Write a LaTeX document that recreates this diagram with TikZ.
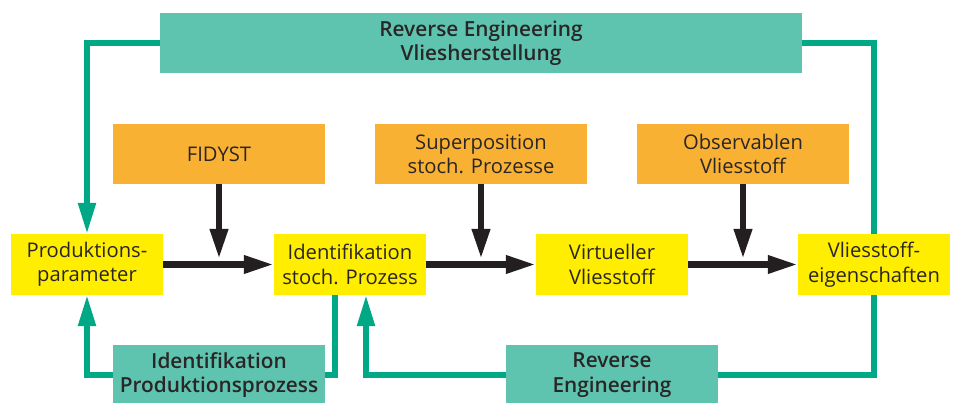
\documentclass[tikz,border=0pt]{standalone}
\usepackage{fontspec}
\setmainfont{Open Sans}
\newfontfamily\semib{Open Sans Semibold}
\usetikzlibrary{arrows.meta}
\definecolor{tealfill}{HTML}{5EC4AF}
\definecolor{tealline}{HTML}{00A886}
\definecolor{orangefill}{HTML}{F9B134}
\definecolor{yellowfill}{HTML}{FFEE00}
\definecolor{darktxt}{HTML}{2A2627}
\definecolor{blackline}{HTML}{231F20}
\begin{document}
\begin{tikzpicture}[x=1pt,y=-1pt,
  box/.style={inner sep=0pt,align=center,text=darktxt,font=\fontsize{20.2}{24.5}\selectfont},
  tealbox/.style={box,fill=tealfill,font=\fontsize{20.8}{24.5}\selectfont\semib},
  orangebox/.style={box,fill=orangefill,minimum width=212pt,minimum height=60pt},
  yellowbox/.style={box,fill=yellowfill,minimum width=152pt,minimum height=61pt},
  tealconn/.style={draw=tealline,line width=5.5pt,line join=miter},
  tealarrow/.style={tealconn,-{Triangle[length=31pt,width=17pt]}},
  blackarrow/.style={draw=blackline,line width=6.5pt,-{Triangle[length=30pt,width=17pt]}}
]
\useasboundingbox (0,0) rectangle (955,403);
\clip (0,0) rectangle (955,403);
\fill[white] (0,0) rectangle (955,403);

% top and bottom teal boxes
\node[tealbox,minimum width=642pt,minimum height=60pt] (rev) at (481,43) {Reverse Engineering\\Vliesherstellung};
\node[tealbox,minimum width=212pt,minimum height=60pt] (ipp) at (219,375) {Identifikation\\Produktionsprozess};
\node[tealbox,minimum width=212pt,minimum height=60pt] (re) at (612,375) {Reverse\\Engineering};

% orange boxes
\node[orangebox] (fid) at (219,154) {FIDYST};
\node[orangebox] (sup) at (481,154) {Superposition\\stoch. Prozesse};
\node[orangebox] (obs) at (743,154) {Observablen\\Vliesstoff};

% yellow boxes
\node[yellowbox] (pp)  at (87,264.5)  {Produktions-\\parameter};
\node[yellowbox] (isp) at (350,264.5) {Identifikation\\stoch. Prozess};
\node[yellowbox] (vv)  at (612,264.5) {Virtueller\\Vliesstoff};
\node[yellowbox] (ve)  at (874,264.5) {Vliesstoff-\\eigenschaften};

% teal connectors
\draw[tealarrow] (rev.west) -| (pp.north);
\draw[tealconn] (rev.east) -| (ve.north);
\draw[tealconn] (ve.south) |- (re.east);
\draw[tealarrow] (re.west) -| ([xshift=16pt]isp.south);
\draw[tealconn] (ipp.east) -| ([xshift=-15pt]isp.south);
\draw[tealarrow] (ipp.west) -| (pp.south);

% black arrows
\draw[blackarrow] (pp.east) -- (isp.west);
\draw[blackarrow] (isp.east) -- (vv.west);
\draw[blackarrow] (vv.east) -- (ve.west);
\coordinate (t1) at (fid.south |- 0,259);
\coordinate (t2) at (sup.south |- 0,259);
\coordinate (t3) at (obs.south |- 0,259);
\draw[blackarrow] (fid.south) -- (t1);
\draw[blackarrow] (sup.south) -- (t2);
\draw[blackarrow] (obs.south) -- (t3);
\end{tikzpicture}
\end{document}
